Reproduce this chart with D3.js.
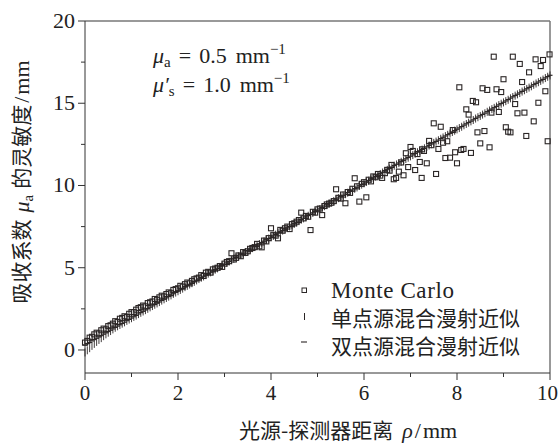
<!DOCTYPE html>
<html>
<head>
<meta charset="utf-8">
<script src="https://cdn.jsdelivr.net/npm/d3@7"></script>
<style>
  body { margin: 0; background: #fff; }
  svg text { font-family: "Liberation Serif", "DejaVu Serif", serif; fill: #222; }
  .cjk { font-family: "Noto Sans CJK SC", sans-serif; }
</style>
</head>
<body>
<div id="chart"></div>
<script>
// Monte Carlo points (rho, sensitivity)
var mcX = [0.00,0.05,0.10,0.15,0.20,0.25,0.30,0.35,0.40,0.45,0.50,0.55,0.60,0.65,0.70,0.75,0.80,0.85,0.90,0.95,
  1.00,1.05,1.10,1.15,1.20,1.25,1.30,1.35,1.40,1.45,1.50,1.55,1.60,1.65,1.70,1.75,1.80,1.85,1.90,1.95,
  2.00,2.05,2.10,2.15,2.20,2.25,2.30,2.35,2.40,2.45,2.50,2.55,2.60,2.65,2.70,2.75,2.80,2.85,2.90,2.95,
  3.00,3.05,3.10,3.15,3.20,3.25,3.30,3.35,3.40,3.45,3.50,3.55,3.60,3.65,3.70,3.75,3.80,3.85,3.90,3.95,
  4.00,4.05,4.10,4.15,4.20,4.25,4.30,4.35,4.40,4.45,4.50,4.55,4.60,4.65,4.70,4.75,4.80,4.85,4.90,4.95,
  5.00,5.05,5.10,5.15,5.20,5.25,5.30,5.35,5.40,5.45,5.50,5.55,5.60,5.65,5.70,5.75,5.80,5.85,5.90,5.95,
  6.00,6.05,6.10,6.15,6.20,6.25,6.30,6.35,6.39,6.45,6.50,6.55,6.59,6.64,6.69,6.75,6.80,6.85,6.90,6.95,
  7.00,7.05,7.10,7.15,7.20,7.24,7.25,7.29,7.35,7.40,7.45,7.50,7.55,7.60,7.65,7.70,7.75,7.79,7.85,7.91,
  7.96,8.00,8.05,8.09,8.14,8.20,8.25,8.30,8.34,8.41,8.44,8.50,8.55,8.59,8.65,8.70,8.74,8.79,8.85,8.90,
  8.95,9.00,9.05,9.10,9.15,9.20,9.25,9.30,9.35,9.40,9.45,9.49,9.55,9.65,9.69,9.75,9.80,9.85,9.90,9.95,9.99];
var mcY = [0.45,0.55,0.75,0.80,0.95,1.05,1.00,1.20,1.30,1.25,1.45,1.50,1.60,1.75,1.70,1.90,1.95,2.05,2.00,2.20,
  2.30,2.30,2.45,2.55,2.60,2.70,2.65,2.85,2.90,2.95,3.10,3.05,3.20,3.30,3.25,3.40,3.50,3.45,3.65,3.70,
  3.75,3.90,3.85,4.00,4.10,4.05,4.20,4.30,4.35,4.40,4.55,4.50,4.70,4.75,4.70,4.90,4.95,5.00,5.10,5.05,
  5.25,5.35,5.40,5.88,5.50,5.60,5.75,5.70,5.95,5.90,6.00,6.15,6.20,6.25,6.45,6.30,6.24,6.65,6.60,6.80,
  7.40,7.00,6.95,6.79,7.30,7.25,7.40,7.50,7.35,7.65,7.70,7.80,7.90,8.35,8.00,8.15,8.10,7.29,8.40,8.35,
  8.55,8.60,8.20,8.75,8.85,8.90,8.95,9.05,9.77,9.25,9.20,9.45,8.92,9.60,9.55,9.80,10.44,9.95,9.02,10.10,
  10.20,9.28,10.35,10.25,10.55,10.50,10.70,10.60,10.46,10.75,10.95,10.90,11.25,10.38,10.46,10.84,11.40,10.62,11.96,11.12,
  12.34,12.10,10.94,11.91,11.43,10.46,12.20,12.10,11.35,12.71,12.45,13.78,10.70,12.22,13.57,12.60,11.67,12.69,11.69,13.37,
  12.02,11.35,15.97,12.16,12.22,14.63,14.31,11.98,15.14,15.06,13.23,12.56,15.91,13.31,15.81,12.32,14.43,17.83,15.85,14.47,
  15.68,16.46,13.54,13.27,13.23,17.83,14.95,14.39,17.39,16.29,14.43,13.01,16.88,13.90,17.67,15.03,17.26,17.63,15.73,12.69,17.97];

// theory curves, sampled every 0.05 mm from 0 to 10
var theoryStep = 0.05;
var singleY = [-0.15,-0.02,0.11,0.25,0.37,0.49,0.61,0.72,0.84,0.95,1.05,1.15,1.25,1.35,1.44,1.52,1.60,1.68,1.77,1.85,
  1.93,2.01,2.09,2.18,2.26,2.34,2.42,2.50,2.59,2.67,2.75,2.83,2.91,3.00,3.08,3.16,3.24,3.32,3.41,3.49,
  3.57,3.65,3.73,3.82,3.90,3.98,4.06,4.14,4.23,4.31,4.39,4.47,4.55,4.64,4.72,4.80,4.88,4.96,5.05,5.13,
  5.21,5.29,5.37,5.46,5.54,5.62,5.70,5.78,5.87,5.95,6.03,6.11,6.19,6.28,6.36,6.44,6.52,6.60,6.69,6.77,
  6.85,6.93,7.01,7.10,7.18,7.26,7.34,7.42,7.51,7.59,7.67,7.75,7.83,7.92,8.00,8.08,8.16,8.24,8.33,8.41,
  8.49,8.57,8.65,8.74,8.82,8.90,8.98,9.06,9.15,9.23,9.31,9.39,9.47,9.56,9.64,9.72,9.80,9.88,9.97,10.05,
  10.13,10.21,10.29,10.38,10.46,10.54,10.62,10.70,10.79,10.87,10.95,11.03,11.11,11.20,11.28,11.36,11.44,11.52,11.61,11.69,
  11.77,11.85,11.93,12.02,12.10,12.18,12.26,12.34,12.43,12.51,12.59,12.67,12.75,12.84,12.92,13.00,13.08,13.16,13.25,13.33,
  13.41,13.49,13.57,13.66,13.74,13.82,13.90,13.98,14.07,14.15,14.23,14.31,14.39,14.48,14.56,14.64,14.72,14.80,14.89,14.97,
  15.05,15.13,15.21,15.30,15.38,15.46,15.54,15.62,15.71,15.79,15.87,15.95,16.03,16.12,16.20,16.28,16.36,16.44,16.53,16.61,16.69];
var dualY = [0.30,0.38,0.46,0.55,0.63,0.71,0.79,0.87,0.96,1.04,1.12,1.20,1.28,1.37,1.45,1.53,1.61,1.69,1.78,1.86,
  1.94,2.02,2.10,2.19,2.27,2.35,2.43,2.51,2.60,2.68,2.76,2.84,2.92,3.01,3.09,3.17,3.25,3.33,3.42,3.50,
  3.58,3.66,3.74,3.83,3.91,3.99,4.07,4.15,4.24,4.32,4.40,4.48,4.56,4.65,4.73,4.81,4.89,4.97,5.06,5.14,
  5.22,5.30,5.38,5.47,5.55,5.63,5.71,5.79,5.88,5.96,6.04,6.12,6.20,6.29,6.37,6.45,6.53,6.61,6.70,6.78,
  6.86,6.94,7.02,7.11,7.19,7.27,7.35,7.43,7.52,7.60,7.68,7.76,7.84,7.93,8.01,8.09,8.17,8.25,8.34,8.42,
  8.50,8.58,8.66,8.75,8.83,8.91,8.99,9.07,9.16,9.24,9.32,9.40,9.48,9.57,9.65,9.73,9.81,9.89,9.98,10.06,
  10.14,10.22,10.30,10.39,10.47,10.55,10.63,10.71,10.80,10.88,10.96,11.04,11.12,11.21,11.29,11.37,11.45,11.53,11.62,11.70,
  11.78,11.86,11.94,12.03,12.11,12.19,12.27,12.35,12.44,12.52,12.60,12.68,12.76,12.85,12.93,13.01,13.09,13.17,13.26,13.34,
  13.42,13.50,13.58,13.67,13.75,13.83,13.91,13.99,14.08,14.16,14.24,14.32,14.40,14.49,14.57,14.65,14.73,14.81,14.90,14.98,
  15.06,15.14,15.22,15.31,15.39,15.47,15.55,15.63,15.72,15.80,15.88,15.96,16.04,16.13,16.21,16.29,16.37,16.45,16.54,16.62,16.70];

var xTicks = [0,1,2,3,4,5,6,7,8,9,10];
var xLabels = [0,2,4,6,8,10];
var yMajor = [0,5,10,15,20];
var yMinor = [2.5,7.5,12.5,17.5];
var legendNames = ["Monte Carlo", "单点源混合漫射近似", "双点源混合漫射近似"];

var W = 559, H = 444;
var svg = d3.select("#chart").append("svg").attr("width", W).attr("height", H);

var x = d3.scaleLinear().domain([0, 10]).range([85, 550]);
var y = d3.scaleLinear().domain([-1.4, 20]).range([373, 21]);

var ink = "#2b2626";

// frame
svg.append("line").attr("x1", 85).attr("x2", 550).attr("y1", 21).attr("y2", 21)
  .style("stroke", "#777").style("stroke-width", 1.3);
svg.append("line").attr("x1", 550).attr("x2", 550).attr("y1", 21).attr("y2", 373)
  .style("stroke", "#777").style("stroke-width", 1.5);
svg.append("line").attr("x1", 85).attr("x2", 85).attr("y1", 21).attr("y2", 373)
  .style("stroke", "#333").style("stroke-width", 1);
svg.append("line").attr("x1", 85).attr("x2", 550).attr("y1", 373).attr("y2", 373)
  .style("stroke", "#333").style("stroke-width", 1);

// x ticks
svg.selectAll(".xt").data(xTicks).enter().append("line")
  .attr("x1", function(d) { return x(d); }).attr("x2", function(d) { return x(d); })
  .attr("y1", 373).attr("y2", function(d) { return d % 2 == 0 ? 380 : 377; })
  .style("stroke", "#333").style("stroke-width", 1);
// the last label sits against the right edge of the picture
svg.selectAll(".xl").data(xLabels).enter().append("text")
  .text(function(d) { return d; })
  .attr("x", function(d) { return Math.min(x(d), W - 11.5); }).attr("y", 400)
  .attr("text-anchor", "middle").style("font-size", "21px");

// y ticks
svg.selectAll(".ytM").data(yMajor).enter().append("line")
  .attr("x1", 78).attr("x2", 85)
  .attr("y1", function(d) { return y(d); }).attr("y2", function(d) { return y(d); })
  .style("stroke", "#333").style("stroke-width", 1);
svg.selectAll(".ytm").data(yMinor).enter().append("line")
  .attr("x1", 81).attr("x2", 85)
  .attr("y1", function(d) { return y(d); }).attr("y2", function(d) { return y(d); })
  .style("stroke", "#333").style("stroke-width", 1);
svg.selectAll(".yl").data(yMajor).enter().append("text")
  .text(function(d) { return d; })
  .attr("x", 75).attr("y", function(d) { return y(d) + 7; })
  .attr("text-anchor", "end").style("font-size", "22px");

// Monte Carlo squares
var mc = mcX.map(function(v, i) { return {x: v, y: mcY[i]}; });
svg.append("g").selectAll("rect").data(mc).enter().append("rect")
  .attr("x", function(d) { return x(d.x) - 2.5; })
  .attr("y", function(d) { return y(d.y) - 2.5; })
  .attr("width", 5).attr("height", 5)
  .style("fill", "none").style("stroke", ink).style("stroke-width", 1.1);

// single point source: vertical ticks
svg.append("g").selectAll("line").data(singleY).enter().append("line")
  .attr("x1", function(d, i) { return x(i * theoryStep); })
  .attr("x2", function(d, i) { return x(i * theoryStep); })
  .attr("y1", function(d) { return y(d) - 4; })
  .attr("y2", function(d) { return y(d) + 4; })
  .style("stroke", ink).style("stroke-width", 0.9);

// dual point source: horizontal dashes
svg.append("g").selectAll("line").data(dualY).enter().append("line")
  .attr("x1", function(d, i) { return x(i * theoryStep) - 2.5; })
  .attr("x2", function(d, i) { return x(i * theoryStep) + 2.5; })
  .attr("y1", function(d) { return y(d); })
  .attr("y2", function(d) { return y(d); })
  .style("stroke", ink).style("stroke-width", 1.2);

// annotations
var a1 = svg.append("text").attr("x", 153).attr("y", 63).style("font-size", "22px");
a1.append("tspan").text("μ").style("font-style", "italic");
a1.append("tspan").text("a").attr("dy", 4).style("font-size", "15px");
a1.append("tspan").text("=").attr("dx", 8).attr("dy", -4);
a1.append("tspan").text("0.5").attr("dx", 8);
a1.append("tspan").text("mm").attr("dx", 9);
a1.append("tspan").text("−1").attr("dy", -9).style("font-size", "15px");

var a2 = svg.append("text").attr("x", 153).attr("y", 92).style("font-size", "22px");
a2.append("tspan").text("μ′").style("font-style", "italic");
a2.append("tspan").text("s").attr("dy", 4).style("font-size", "15px");
a2.append("tspan").text("=").attr("dx", 8).attr("dy", -4);
a2.append("tspan").text("1.0").attr("dx", 8);
a2.append("tspan").text("mm").attr("dx", 9);
a2.append("tspan").text("−1").attr("dy", -9).style("font-size", "15px");

// legend
var lg = svg.append("g");
lg.append("rect").attr("x", 302).attr("y", 288).attr("width", 4.5).attr("height", 4.5)
  .style("fill", "none").style("stroke", ink).style("stroke-width", 1);
lg.append("line").attr("x1", 304.5).attr("x2", 304.5).attr("y1", 313).attr("y2", 320)
  .style("stroke", ink).style("stroke-width", 1);
lg.append("line").attr("x1", 301).attr("x2", 307).attr("y1", 342).attr("y2", 342)
  .style("stroke", ink).style("stroke-width", 1.1);
lg.selectAll("text").data(legendNames).enter().append("text")
  .attr("class", function(d, i) { return i == 0 ? "" : "cjk"; })
  .text(function(d) { return d; })
  .attr("x", 331).attr("y", function(d, i) { return 298 + i * 28; })
  .style("font-size", function(d, i) { return i == 0 ? "23px" : "21px"; })
  .style("letter-spacing", function(d, i) { return i == 0 ? "0.6px" : "0px"; });

// axis titles
var xt = svg.append("text").attr("x", 348).attr("y", 438).attr("text-anchor", "middle").style("font-size", "22px");
xt.append("tspan").attr("class", "cjk").text("光源-探测器距离").style("font-size", "21px");
xt.append("tspan").text("ρ").attr("dx", 9).style("font-style", "italic");
xt.append("tspan").text("/").attr("dx", 2);
xt.append("tspan").text("mm").attr("dx", 2);

var yt = svg.append("text").attr("transform", "translate(29,182) rotate(-90)")
  .attr("text-anchor", "middle").style("font-size", "22px");
yt.append("tspan").attr("class", "cjk").text("吸收系数").style("font-size", "21px");
yt.append("tspan").text("μ").attr("dx", 7).style("font-style", "italic");
yt.append("tspan").text("a").attr("dy", 4).style("font-size", "15px");
yt.append("tspan").attr("class", "cjk").text("的灵敏度").attr("dx", 6).attr("dy", -4).style("font-size", "21px");
yt.append("tspan").text("/").attr("dx", 2);
yt.append("tspan").text("mm").attr("dx", 2);
</script>
</body>
</html>
